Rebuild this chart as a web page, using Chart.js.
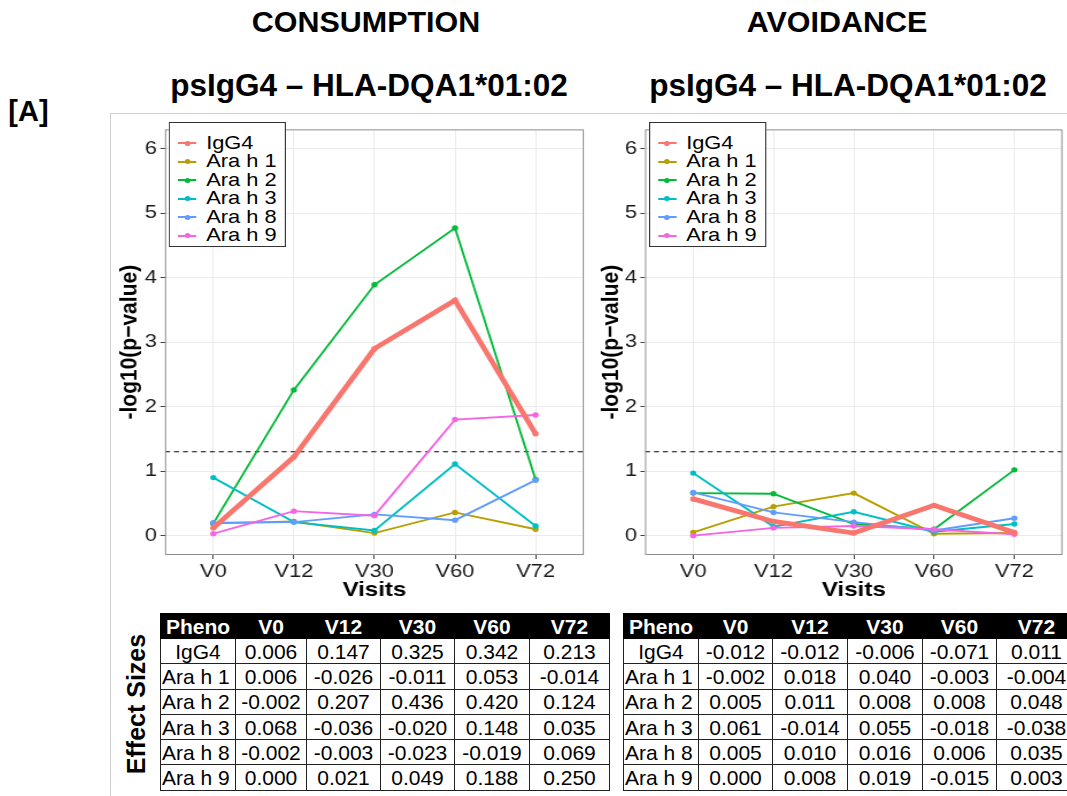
<!DOCTYPE html>
<html>
<head>
<meta charset="utf-8">
<script src="https://cdn.jsdelivr.net/npm/chart.js@4/dist/chart.umd.min.js"></script>
<style>
  html, body { margin: 0; padding: 0; background: #fff; }
  body { width: 1067px; height: 796px; position: relative; overflow: hidden;
         font-family: 'Liberation Sans', Arial, Helvetica, sans-serif; color: #000; }
  .txt { position: absolute; white-space: nowrap; font-weight: bold; line-height: 1; }
  .frame { position: absolute; left: 110px; top: 113px; width: 1200px; height: 900px;
           border-left: 1px solid #cfcfcf; border-top: 1px solid #cfcfcf; }
  .panel { position: absolute; top: 115px; height: 490px; transform-origin: 0 0; }
  .panel canvas { position: absolute; left: 0; top: 0; }
  .legend { position: absolute; top: 7px; height: 125px; box-sizing: border-box;
            border: 1.5px solid #333; background: #fff; }
  .legend .row { position: absolute; left: 0; height: 18.5px; line-height: 18.5px; font-size: 19px; white-space: nowrap; }
  .legend .key { position: absolute; top: 8.25px; height: 2px; }
  .legend .dot { position: absolute; top: -1.5px; width: 5px; height: 5px; border-radius: 50%; }
  .legend .lab { position: absolute; top: 0; }
  table.eff { position: absolute; border-collapse: collapse; table-layout: fixed; font-size: 21px; }
  table.eff td, table.eff th { border: 1.5px solid #222; padding: 0; text-align: center; line-height: 1; overflow: hidden; white-space: nowrap; }
  table.eff th { background: #000; color: #fff; font-weight: bold; border-color: #000; }
  table.eff tr.hd { height: 25px; }
  table.eff tr.bd { height: 25.3px; }
  table.eff td.l { text-align: left; padding-left: 1px; }
</style>
</head>
<body>
<div class="frame"></div>

<div class="txt" id="tA" style="font-size:29px;">[A]</div>
<div class="txt" id="t1" style="font-size:29px;">CONSUMPTION</div>
<div class="txt" id="t2" style="font-size:29px;">AVOIDANCE</div>
<div class="txt" id="s1" style="font-size:32px;">psIgG4 – HLA-DQA1*01:02</div>
<div class="txt" id="s2" style="font-size:32px;">psIgG4 – HLA-DQA1*01:02</div>

<div class="panel" id="panelC">
  <canvas id="chartC"></canvas>
  <div class="legend" id="legC"></div>
</div>
<div class="panel" id="panelA">
  <canvas id="chartA"></canvas>
  <div class="legend" id="legA"></div>
</div>

<div class="txt" id="effLab" style="font-size:25px;">Effect Sizes</div>
<table class="eff" id="tabC" style="left:160px;top:613px;"></table>
<table class="eff" id="tabA" style="left:623px;top:613px;"></table>

<script>
// Visits and phenotypes
const visits = ['V0', 'V12', 'V30', 'V60', 'V72'];
const phenos = ['IgG4', 'Ara h 1', 'Ara h 2', 'Ara h 3', 'Ara h 8', 'Ara h 9'];
const colors = ['#F8766D', '#B79F00', '#00BA38', '#00BFC4', '#619CFF', '#F564E3'];
const yTicks = [0, 1, 2, 3, 4, 5, 6];
const threshold = 1.301; // -log10(0.05)

// -log10(p-value), CONSUMPTION
const consIgG4  = [0.12, 1.22, 2.90, 3.65, 1.58];
const consAra1  = [0.19, 0.22, 0.04, 0.36, 0.10];
const consAra2  = [0.19, 2.26, 3.89, 4.77, 0.87];
const consAra3  = [0.90, 0.21, 0.08, 1.11, 0.15];
const consAra8  = [0.20, 0.21, 0.33, 0.24, 0.86];
const consAra9  = [0.03, 0.38, 0.31, 1.80, 1.87];

// -log10(p-value), AVOIDANCE
const avoidIgG4 = [0.57, 0.22, 0.04, 0.47, 0.05];
const avoidAra1 = [0.05, 0.45, 0.66, 0.03, 0.04];
const avoidAra2 = [0.66, 0.65, 0.18, 0.10, 1.02];
const avoidAra3 = [0.97, 0.14, 0.37, 0.06, 0.18];
const avoidAra8 = [0.67, 0.36, 0.21, 0.08, 0.27];
const avoidAra9 = [0.00, 0.12, 0.15, 0.10, 0.02];

// Effect sizes (rows follow phenos, columns follow visits)
const effConsumption = [
  [0.006, 0.147, 0.325, 0.342, 0.213],
  [0.006, -0.026, -0.011, 0.053, -0.014],
  [-0.002, 0.207, 0.436, 0.420, 0.124],
  [0.068, -0.036, -0.020, 0.148, 0.035],
  [-0.002, -0.003, -0.023, -0.019, 0.069],
  [0.000, 0.021, 0.049, 0.188, 0.250]
];
const effAvoidance = [
  [-0.012, -0.012, -0.006, -0.071, 0.011],
  [-0.002, 0.018, 0.040, -0.003, -0.004],
  [0.005, 0.011, 0.008, 0.008, 0.048],
  [0.061, -0.014, 0.055, -0.018, -0.038],
  [0.005, 0.010, 0.016, 0.006, 0.035],
  [0.000, 0.008, 0.019, -0.015, 0.003]
];

// the line panels are drawn narrow and widened horizontally
const SX = 1.15;
const FONT = "'Liberation Sans', Arial, Helvetica, sans-serif";

function placeText(id, cx, cy, sx) {
  const el = document.getElementById(id);
  const fs = parseFloat(el.style.fontSize);
  el.style.left = cx + 'px';
  el.style.top = (cy - 0.49 * fs) + 'px';
  el.style.transform = 'translateX(-50%) scaleX(' + sx + ')';
}
placeText('tA', 28.5, 111, 1.0);
placeText('t1', 366, 22.5, 1.05);
placeText('t2', 836.5, 22.5, 1.05);
placeText('s1', 369, 85, 0.985);
placeText('s2', 847.5, 85, 0.985);

const eff = document.getElementById('effLab');
eff.style.left = '136px';
eff.style.top = '704px';
eff.style.transform = 'translate(-50%, -50%) rotate(-90deg)';

const panelBorder = {
  id: 'panelBorder',
  afterDatasetsDraw(chart) {
    const a = chart.chartArea, ctx = chart.ctx;
    ctx.save();
    ctx.strokeStyle = '#8f8f8f';
    ctx.lineWidth = 1;
    ctx.strokeRect(a.left + 0.5, a.top + 0.5, a.right - a.left - 1, a.bottom - a.top - 1);
    ctx.restore();
  }
};

// geometry given in page pixels: panel edges, plot edges, y title centre
function makePanel(panelId, canvasId, legendId, seriesList, g) {
  const panel = document.getElementById(panelId);
  const w = (g.right - g.left) / SX;
  panel.style.left = g.left + 'px';
  panel.style.width = w + 'px';
  panel.style.transform = 'scaleX(' + SX + ')';
  const canvas = document.getElementById(canvasId);
  canvas.width = Math.round(w);
  canvas.height = 490;

  const plotLeft = (g.plotLeft - g.left) / SX;
  const padRight = Math.max(0, (g.right - g.plotRight) / SX);
  const titlePad = Math.max(0, (g.titleX - g.left) / SX - 12.6);
  const tickRight = (g.tickRight - g.left) / SX;

  const drawOrder = [1, 6, 5, 4, 3, 2];
  const datasets = seriesList.map((vals, k) => ({
    label: phenos[k],
    data: vals.map((v, i) => ({ x: i, y: v })),
    borderColor: colors[k],
    backgroundColor: colors[k],
    pointBackgroundColor: colors[k],
    borderWidth: k === 0 ? 4.8 : 1.9,
    pointRadius: 2.7,
    pointBorderWidth: 0,
    pointHoverRadius: 0,
    tension: 0,
    order: drawOrder[k]
  }));
  datasets.push({
    label: 'p = 0.05',
    data: [{ x: -0.6, y: threshold }, { x: 4.6, y: threshold }],
    borderColor: '#000',
    borderWidth: 1.1,
    borderDash: [4.3, 3.5],
    pointRadius: 0,
    order: 10
  });

  new Chart(canvas, {
    type: 'line',
    data: { datasets },
    options: {
      responsive: false,
      animation: false,
      devicePixelRatio: 1,
      layout: { padding: { top: 4, right: padRight, bottom: 0, left: 0 } },
      plugins: { legend: { display: false }, tooltip: { enabled: false } },
      events: [],
      scales: {
        x: {
          type: 'linear', min: -0.6, max: 4.6,
          afterBuildTicks: s => { s.ticks = visits.map((_, i) => ({ value: i })); },
          afterFit: s => { s.height = 50; },
          ticks: {
            callback: v => visits[v], autoSkip: false, maxRotation: 0,
            font: { family: FONT, size: 19 }, color: '#1a1a1a', padding: 1
          },
          grid: { color: '#ebebeb', lineWidth: 1, tickLength: 4, tickColor: '#444' },
          border: { display: false },
          title: {
            display: true, text: 'Visits', color: '#000',
            font: { family: FONT, size: 21, weight: 'bold' },
            padding: { top: 0, bottom: 2.4 }
          }
        },
        y: {
          min: -0.3, max: 6.3,
          afterBuildTicks: s => { s.ticks = yTicks.map(v => ({ value: v })); },
          afterFit: s => { s.width = plotLeft; },
          ticks: { font: { family: FONT, size: 19 }, color: '#1a1a1a', padding: Math.max(0, plotLeft - tickRight - 4) },
          grid: { color: '#ebebeb', lineWidth: 1, tickLength: 4, tickColor: '#444' },
          border: { display: false },
          title: {
            display: true, text: '-log10(p\u2212value)', color: '#000',
            font: { family: FONT, size: 21, weight: 'bold' },
            padding: { top: titlePad, bottom: 0 }
          }
        }
      }
    },
    plugins: [panelBorder]
  });

  // legend inside the panel's top-left corner
  const box = document.getElementById(legendId);
  box.style.left = ((g.legLeft - g.left) / SX) + 'px';
  box.style.width = (117 / SX) + 'px';
  phenos.forEach((p, i) => {
    const row = document.createElement('div');
    row.className = 'row';
    row.style.top = (10.75 + i * 18.5) + 'px';
    row.innerHTML =
      '<div class="key" style="left:' + (8 / SX) + 'px;width:' + (18 / SX) + 'px;background:' + colors[i] + '">' +
      '<div class="dot" style="left:' + (9 / SX - 2.5) + 'px;background:' + colors[i] + '"></div></div>' +
      '<div class="lab" style="left:' + (36 / SX) + 'px">' + p + '</div>';
    box.appendChild(row);
  });
}

function buildTable(id, rows, widths) {
  const t = document.getElementById(id);
  let html = '<colgroup>' + widths.map(w => '<col style="width:' + w + 'px">').join('') + '</colgroup>';
  html += '<tr class="hd"><th>Pheno</th>' + visits.map(v => '<th>' + v + '</th>').join('') + '</tr>';
  phenos.forEach((p, i) => {
    html += '<tr class="bd"><td class="' + (i === 0 ? '' : 'l') + '">' + p + '</td>' +
      rows[i].map(v => '<td>' + v.toFixed(3) + '</td>').join('') + '</tr>';
  });
  t.innerHTML = html;
  t.style.width = widths.reduce((a, b) => a + b, 0) + 'px';
}

makePanel('panelC', 'chartC', 'legC',
  [consIgG4, consAra1, consAra2, consAra3, consAra8, consAra9],
  { left: 110, right: 600, plotLeft: 165, plotRight: 584, titleX: 130, tickRight: 157, legLeft: 169 });
makePanel('panelA', 'chartA', 'legA',
  [avoidIgG4, avoidAra1, avoidAra2, avoidAra3, avoidAra8, avoidAra9],
  { left: 595, right: 1067, plotLeft: 645, plotRight: 1063, titleX: 611, tickRight: 637, legLeft: 649 });
buildTable('tabC', effConsumption, [75, 71, 74, 74, 75, 80]);
buildTable('tabA', effAvoidance, [75, 74, 75, 75, 74, 80]);
</script>
</body>
</html>
